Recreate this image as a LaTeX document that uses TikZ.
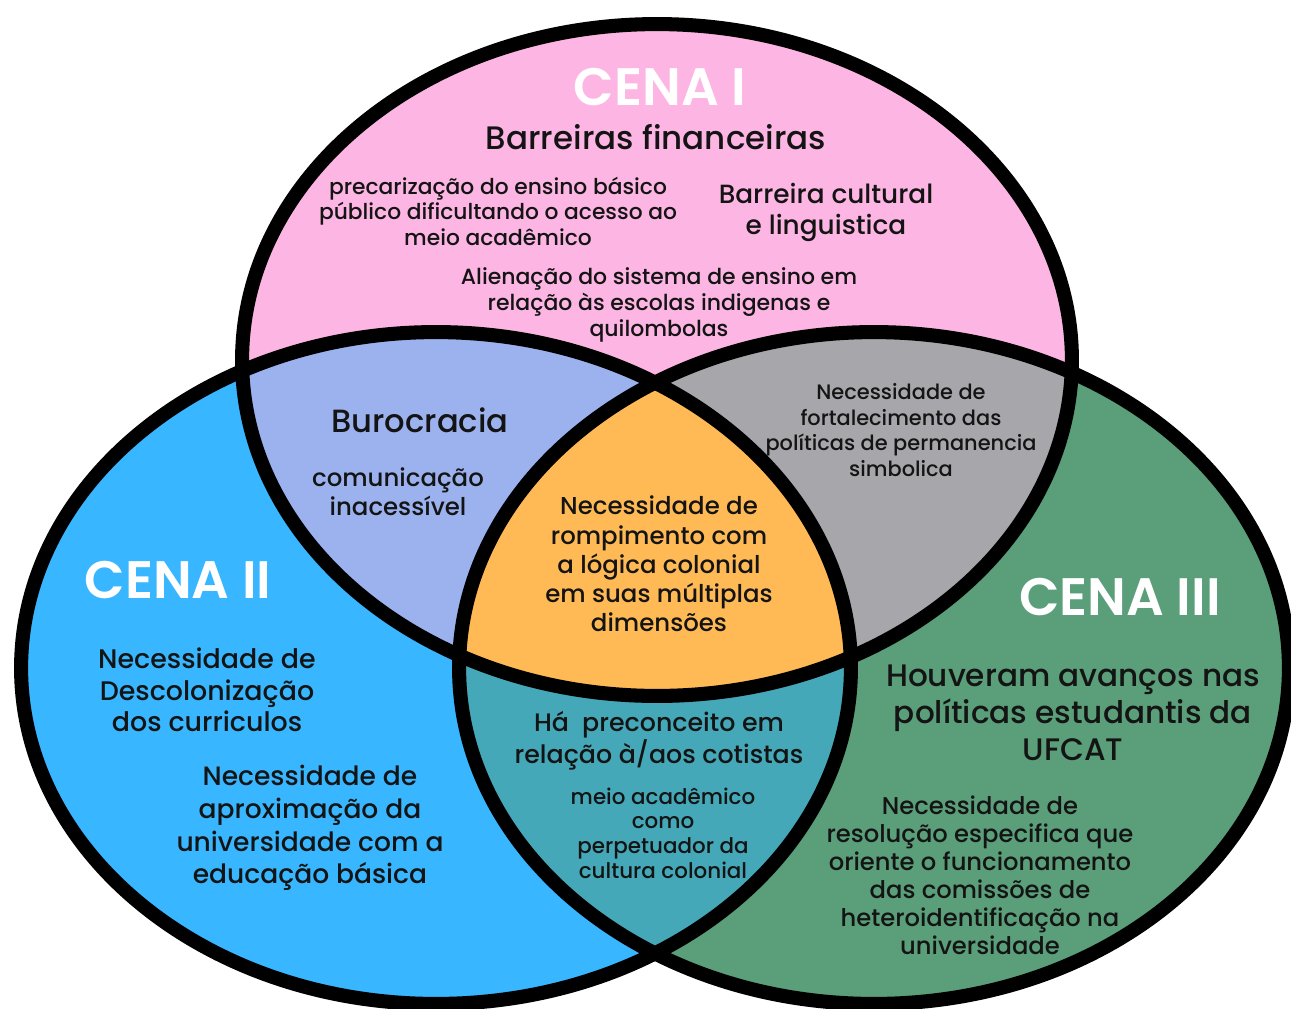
\documentclass[tikz,border=0pt]{standalone}
\usepackage{fontspec}
\setmainfont{Poppins}[UprightFont=* Medium, BoldFont=* SemiBold]
\usepackage{tikz}
\usetikzlibrary{positioning}
\definecolor{cenaPink}{RGB}{253,182,227}
\definecolor{cenaBlue}{RGB}{56,182,255}
\definecolor{cenaGreen}{RGB}{90,158,122}
\definecolor{mixLavender}{RGB}{155,178,238}
\definecolor{mixGray}{RGB}{166,166,171}
\definecolor{mixTeal}{RGB}{69,168,184}
\definecolor{mixOrange}{RGB}{255,186,85}
\definecolor{textBlack}{gray}{0.08}

\begin{document}
\begin{tikzpicture}[x=0.02cm, y=-0.02cm,
    ring/.style={line width=8pt, black},
    lbl/.style 2 args={align=center, inner sep=0pt, text=textBlack, font=\fontsize{#1}{#2}\selectfont},
    cena/.style={inner sep=0pt, text=white, font=\bfseries\fontsize{#1}{#1}\selectfont}]
    \useasboundingbox (0,0) rectangle (1291,1008);
    \coordinate (cTop) at (657,360);
    \coordinate (cLeft) at (436,668);
    \coordinate (cRight) at (874,668);
    \def\rx{8.3cm}
    \def\ry{6.72cm}

    % Scenes
    \fill[cenaPink] (cTop) ellipse [x radius=\rx, y radius=\ry];
    \fill[cenaBlue] (cLeft) ellipse [x radius=\rx, y radius=\ry];
    \fill[cenaGreen] (cRight) ellipse [x radius=\rx, y radius=\ry];

    % Overlaps
    \begin{scope}
        \clip (cTop) ellipse [x radius=\rx, y radius=\ry];
        \fill[mixLavender] (cLeft) ellipse [x radius=\rx, y radius=\ry];
        \fill[mixGray] (cRight) ellipse [x radius=\rx, y radius=\ry];
    \end{scope}
    \begin{scope}
        \clip (cLeft) ellipse [x radius=\rx, y radius=\ry];
        \fill[mixTeal] (cRight) ellipse [x radius=\rx, y radius=\ry];
    \end{scope}
    \begin{scope}
        \clip (cTop) ellipse [x radius=\rx, y radius=\ry];
        \clip (cLeft) ellipse [x radius=\rx, y radius=\ry];
        \fill[mixOrange] (cRight) ellipse [x radius=\rx, y radius=\ry];
    \end{scope}

    % Outlines
    \draw[ring] (cTop) ellipse [x radius=\rx, y radius=\ry];
    \draw[ring] (cLeft) ellipse [x radius=\rx, y radius=\ry];
    \draw[ring] (cRight) ellipse [x radius=\rx, y radius=\ry];

    % Cena I
    \node[cena=30pt] (cenaI) at (660,87) {CENA I};
    \node[lbl={18.5pt}{21pt}] (barFin) at (656,137) {Barreiras financeiras};
    \node[lbl={12.4pt}{14.5pt}] (precEns) at (498,211) {precarização do ensino básico\\público dificultando o acesso ao\\meio acadêmico};
    \node[lbl={15pt}{17.6pt}] (barCult) at (826,212) {Barreira cultural\\e linguistica};
    \node[lbl={12.5pt}{14.7pt}] (alien) at (659,305) {Alienação do sistema de ensino em\\relação às escolas indigenas e\\quilombolas};

    % Cena I e II
    \node[lbl={18.3pt}{20pt}] (buroc) at (420,420) {Burocracia};
    \node[lbl={13.9pt}{16.4pt}] (comun) at (398,492) {comunicação\\inacessível};

    % Cena I e III
    \node[lbl={11.9pt}{14.6pt}] (fortal) at (901,430) {Necessidade de\\fortalecimento das\\políticas de permanencia\\simbolica};

    % Todas
    \node[lbl={13.9pt}{16.6pt}] (rompim) at (659,564) {Necessidade de\\rompimento com\\a lógica colonial\\em suas múltiplas\\dimensões};

    % Cena II
    \node[cena=30pt] (cenaII) at (178,580) {CENA II};
    \node[lbl={15.3pt}{18pt}] (descol) at (207,690) {Necessidade de\\Descolonização\\dos curriculos};
    \node[lbl={15.1pt}{18.5pt}] (aprox) at (310,828) {Necessidade de\\aproximação da\\universidade com a\\educação básica};

    % Cena II e III
    \node[lbl={14.4pt}{16.4pt}] (precon) at (659,741) {Há\ \ preconceito em\\relação à/aos cotistas};
    \node[lbl={12.2pt}{14pt}] (perpet) at (663,833) {meio acadêmico\\como\\perpetuador da\\cultura colonial};

    % Cena III
    \node[cena=30pt] (cenaIII) at (1120,597) {CENA III};
    \node[lbl={17.7pt}{21pt}] (avanc) at (1073,713) {Houveram avanços nas\\políticas estudantis da\\UFCAT};
    \node[lbl={13.8pt}{15.9pt}] (resol) at (980,875) {Necessidade de\\resolução especifica que\\oriente o funcionamento\\das comissões de\\heteroidentificação na\\universidade};
\end{tikzpicture}
\end{document}
